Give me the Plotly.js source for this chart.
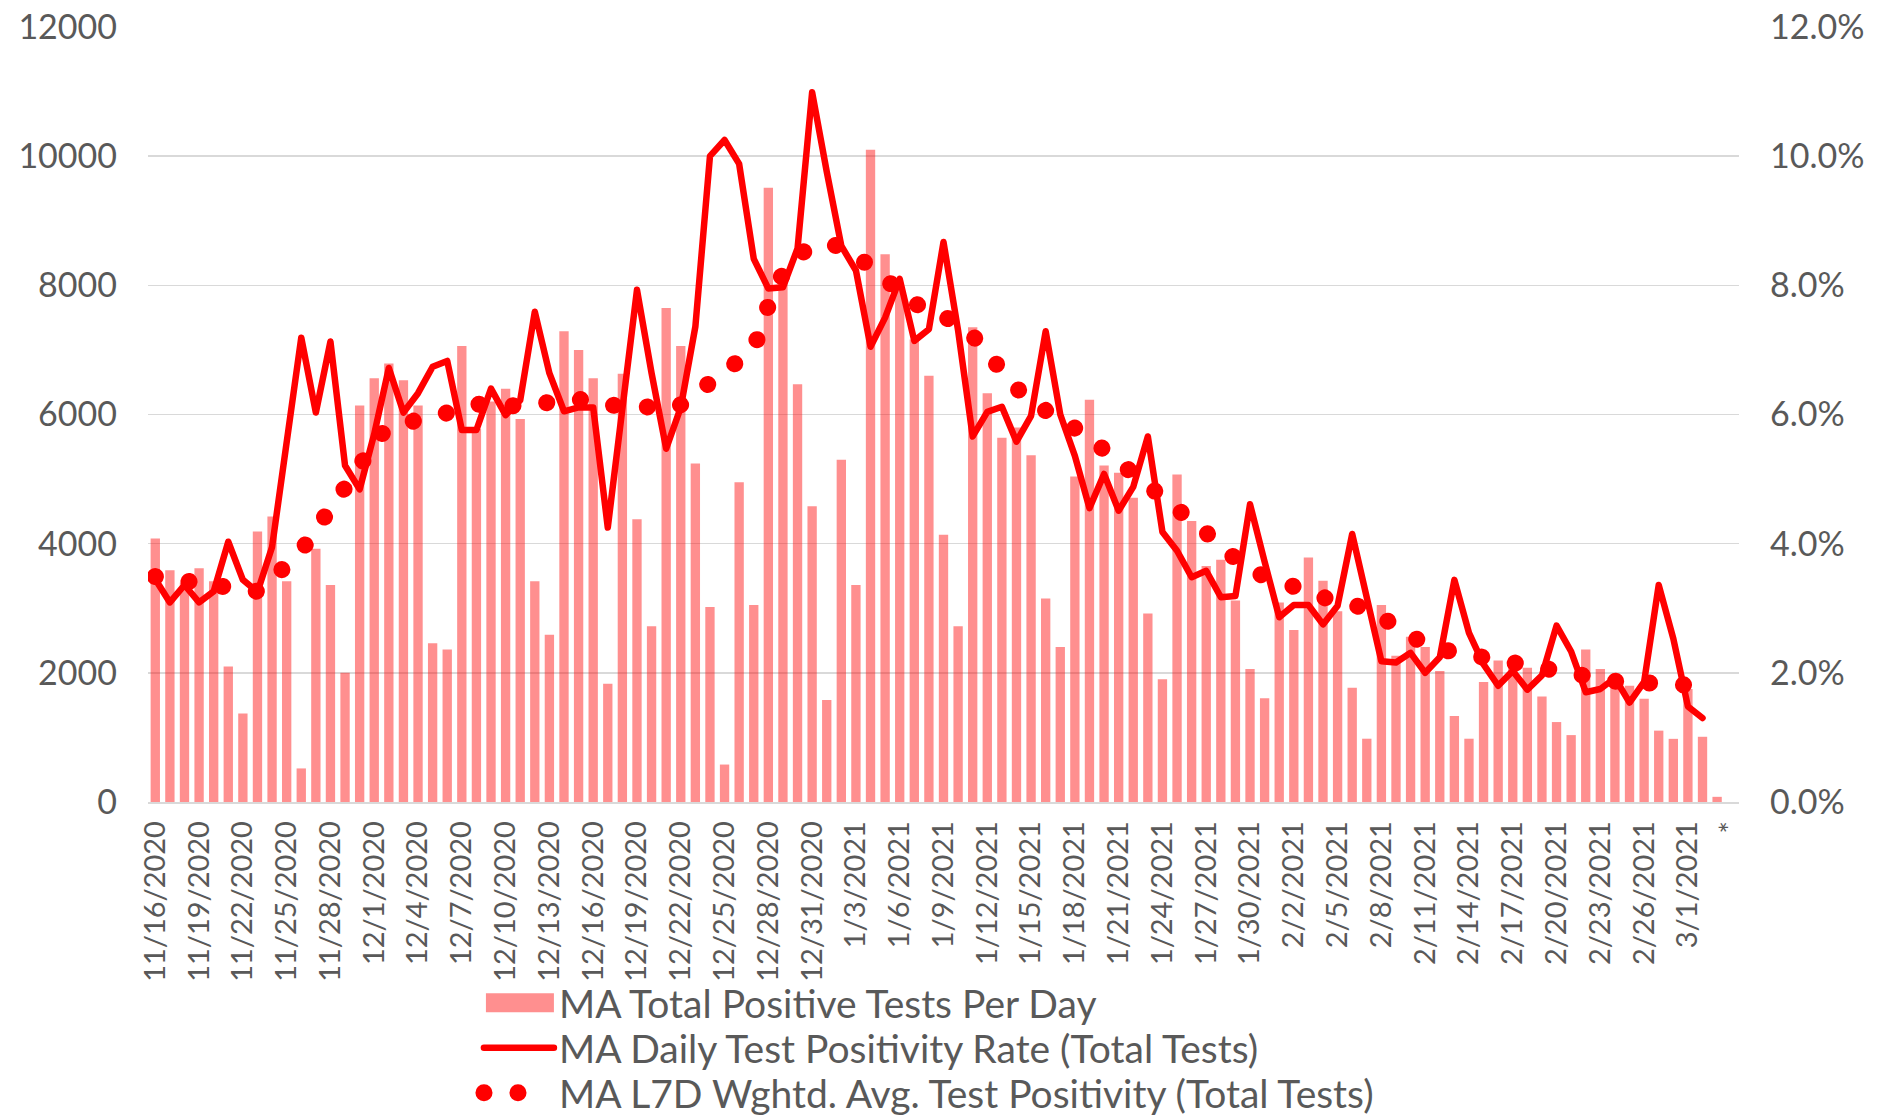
<!DOCTYPE html>
<html>
<head>
<meta charset="utf-8">
<script src="https://cdn.plot.ly/plotly-3.0.1.min.js"></script>
<style>
  html, body { margin: 0; padding: 0; background: #ffffff; }
  #chart { width: 1879px; height: 1115px; }
  path.js-line { stroke-linecap: round; stroke-linejoin: round; }
  .legend .scrollbar { display: none; }
</style>
</head>
<body>
<div id="chart"></div>
<script>
// ---- categories (one per day) ----
const dates = [
  "11/16/2020","11/17/2020","11/18/2020","11/19/2020","11/20/2020","11/21/2020","11/22/2020","11/23/2020","11/24/2020","11/25/2020",
  "11/26/2020","11/27/2020","11/28/2020","11/29/2020","11/30/2020",
  "12/1/2020","12/2/2020","12/3/2020","12/4/2020","12/5/2020","12/6/2020","12/7/2020","12/8/2020","12/9/2020","12/10/2020",
  "12/11/2020","12/12/2020","12/13/2020","12/14/2020","12/15/2020","12/16/2020","12/17/2020","12/18/2020","12/19/2020","12/20/2020",
  "12/21/2020","12/22/2020","12/23/2020","12/24/2020","12/25/2020","12/26/2020","12/27/2020","12/28/2020","12/29/2020","12/30/2020","12/31/2020",
  "1/1/2021","1/2/2021","1/3/2021","1/4/2021","1/5/2021","1/6/2021","1/7/2021","1/8/2021","1/9/2021","1/10/2021",
  "1/11/2021","1/12/2021","1/13/2021","1/14/2021","1/15/2021","1/16/2021","1/17/2021","1/18/2021","1/19/2021","1/20/2021",
  "1/21/2021","1/22/2021","1/23/2021","1/24/2021","1/25/2021","1/26/2021","1/27/2021","1/28/2021","1/29/2021","1/30/2021","1/31/2021",
  "2/1/2021","2/2/2021","2/3/2021","2/4/2021","2/5/2021","2/6/2021","2/7/2021","2/8/2021","2/9/2021","2/10/2021",
  "2/11/2021","2/12/2021","2/13/2021","2/14/2021","2/15/2021","2/16/2021","2/17/2021","2/18/2021","2/19/2021","2/20/2021",
  "2/21/2021","2/22/2021","2/23/2021","2/24/2021","2/25/2021","2/26/2021","2/27/2021","2/28/2021",
  "3/1/2021","3/2/2021","3/3/2021","*"
];

// ---- shown tick labels (every third day) ----
const tickLabels = [
  "11/16/2020","11/19/2020","11/22/2020","11/25/2020","11/28/2020","12/1/2020","12/4/2020","12/7/2020","12/10/2020",
  "12/13/2020","12/16/2020","12/19/2020","12/22/2020","12/25/2020","12/28/2020","12/31/2020","1/3/2021","1/6/2021",
  "1/9/2021","1/12/2021","1/15/2021","1/18/2021","1/21/2021","1/24/2021","1/27/2021","1/30/2021","2/2/2021","2/5/2021",
  "2/8/2021","2/11/2021","2/14/2021","2/17/2021","2/20/2021","2/23/2021","2/26/2021","3/1/2021","*"
];

// ---- MA Total Positive Tests Per Day ----
const positiveTests = [
  4080,3590,3400,3620,3420,2100,1370,4190,4420,3420,
  520,3920,3360,2000,6140,6560,6790,6530,6140,2460,
  2360,7060,5780,6200,6400,5930,3420,2590,7290,7000,
  6560,1830,6630,4380,2720,7650,7060,5240,3020,580,
  4950,3050,9510,8190,6470,4580,1580,5300,3360,10100,
  8480,7970,7160,6600,4140,2720,7350,6330,5640,5800,
  5370,3150,2400,5040,6230,5210,5100,4710,2920,1900,
  5070,4350,3655,3750,3120,2060,1605,3090,2665,3785,
  3425,2955,1770,980,3050,2265,2560,2400,2030,1330,
  980,1860,2190,2165,2080,1632,1238,1036,2360,2060,
  1900,1800,1600,1105,978,1750,1010,80,null
];

// ---- MA Daily Test Positivity Rate (Total Tests), % ----
const dailyPositivity = [
  3.45,3.09,3.36,3.09,3.26,4.03,3.44,3.25,3.95,5.59,
  7.19,6.03,7.13,5.21,4.84,5.70,6.72,6.03,6.33,6.74,
  6.83,5.76,5.76,6.40,5.99,6.22,7.59,6.64,6.05,6.11,
  6.11,4.25,6.19,7.93,6.64,5.47,6.11,7.36,10.00,10.25,
  9.88,8.41,7.95,7.97,8.57,10.99,9.76,8.61,8.23,7.05,
  7.50,8.10,7.14,7.32,8.67,7.30,5.66,6.04,6.12,5.58,
  5.98,7.29,6.00,5.36,4.55,5.08,4.51,4.88,5.66,4.18,
  3.89,3.48,3.58,3.17,3.19,4.61,3.72,2.86,3.05,3.05,
  2.75,3.04,4.15,3.12,2.18,2.16,2.31,2.00,2.24,3.44,
  2.62,2.13,1.80,2.03,1.74,1.96,2.73,2.33,1.70,1.75,
  1.92,1.54,1.86,3.36,2.53,1.48,1.30,null,null
];

// ---- MA L7D Wghtd. Avg. Test Positivity (Total Tests), % ----
const l7dPositivity = [
  3.49,3.45,3.42,3.39,3.34,3.31,3.28,3.26,3.45,3.64,
  3.89,4.22,4.54,4.78,5.19,5.60,5.79,5.86,5.91,5.93,
  5.97,6.08,6.16,6.14,6.11,6.13,6.16,6.19,6.23,6.24,
  6.18,6.13,6.16,6.16,6.11,6.08,6.15,6.32,6.51,6.70,
  6.86,7.01,7.69,8.19,8.48,8.59,8.66,8.59,8.48,8.27,
  8.11,7.95,7.78,7.56,7.51,7.43,7.22,6.93,6.66,6.41,
  6.20,6.08,5.93,5.82,5.65,5.45,5.27,5.12,4.96,4.73,
  4.55,4.36,4.17,3.96,3.73,3.58,3.50,3.41,3.30,3.22,
  3.14,3.09,3.05,3.00,2.86,2.70,2.56,2.44,2.37,2.30,
  2.27,2.24,2.20,2.14,2.07,2.04,2.02,1.97,1.92,1.89,
  1.87,1.86,1.86,1.86,1.84,1.81,1.79,null,null
];

const seriesNames = [
  "MA Total Positive Tests Per Day",
  "MA Daily Test Positivity Rate (Total Tests)",
  "MA L7D Wghtd. Avg. Test Positivity (Total Tests)"
];

const FONT = "Lato, 'Open Sans', sans-serif";
const TXT = "#595959";
const GRID = "#D9D9D9";

const traces = [
  {
    type: "bar", name: seriesNames[0], x: dates, y: positiveTests,
    marker: { color: "rgba(255,0,0,0.44)", line: { width: 0 } },
    yaxis: "y", hoverinfo: "skip"
  },
  {
    type: "scatter", mode: "lines", name: seriesNames[1], x: dates, y: dailyPositivity,
    line: { color: "#FF0000", width: 6.5 },
    yaxis: "y2", hoverinfo: "skip"
  },
  {
    type: "scatter", mode: "lines", name: seriesNames[2], x: dates, y: l7dPositivity,
    line: { color: "#FF0000", width: 17, dash: "0.1px,33.9px" },
    yaxis: "y2", hoverinfo: "skip"
  }
];

const layout = {
  width: 1879, height: 1115,
  margin: { l: 148, r: 140, t: 27, b: 313, pad: 0, autoexpand: false },
  paper_bgcolor: "#ffffff", plot_bgcolor: "rgba(0,0,0,0)",
  font: { family: FONT, color: TXT },
  bargap: 0.36,
  showlegend: true,
  legend: {
    orientation: "v", x: 0.208, xanchor: "left", y: -0.218, yanchor: "top",
    font: { family: FONT, size: 39, color: TXT },
    itemwidth: 70, tracegroupgap: 0, bgcolor: "rgba(0,0,0,0)"
  },
  xaxis: {
    type: "category", categoryorder: "array", categoryarray: dates,
    tickmode: "array", tickvals: tickLabels, ticktext: tickLabels,
    tickangle: -90, tickfont: { family: FONT, size: 29, color: TXT },
    ticks: "", ticklabelstandoff: 6,
    showgrid: false, zeroline: false,
    showline: true, linecolor: GRID, linewidth: 1.5
  },
  yaxis: {
    range: [0, 12000], dtick: 2000, tick0: 0, tickformat: "d",
    tickfont: { family: FONT, size: 34, color: TXT },
    ticks: "", ticklabelstandoff: 30,
    showgrid: true, gridcolor: GRID, gridwidth: 1.5,
    zeroline: false, showline: false
  },
  yaxis2: {
    overlaying: "y", side: "right",
    range: [0, 12], dtick: 2, tick0: 0,
    tickformat: ".1f", ticksuffix: "%",
    tickfont: { family: FONT, size: 34, color: TXT },
    ticks: "", ticklabelstandoff: 30,
    showgrid: false, zeroline: false, showline: false
  }
};

Plotly.newPlot("chart", traces, layout, { staticPlot: true, displayModeBar: false }).then(function (gd) {
  // let the legend draw freely (no scroll clipping at the figure edge)
  gd.querySelectorAll(".legend [clip-path]").forEach(function (el) { el.removeAttribute("clip-path"); });
  // legend symbols drawn wide, as in the original, and rows 45px apart
  const items = gd.querySelectorAll(".legend .traces");
  let y0 = null, x0 = 0;
  items.forEach(function (g, i) {
    const tr = g.getAttribute("transform") || "";
    const m = tr.match(/translate\(\s*([-\d.]+)[ ,]+([-\d.]+)\s*\)/);
    if (m) {
      if (y0 === null) { y0 = parseFloat(m[2]); x0 = parseFloat(m[1]); }
      g.setAttribute("transform", "translate(" + x0 + "," + (y0 + 45 * i) + ")");
    }
    if (i === 0) {
      g.querySelectorAll(".legendpoints path").forEach(function (p) {
        p.setAttribute("d", "M7,-9.5H75V9.5H7Z");
        p.setAttribute("transform", "");
      });
    } else if (i === 1) {
      g.querySelectorAll("path.js-line").forEach(function (p) {
        p.setAttribute("d", "M5,0H75");
        p.style.strokeWidth = "6.5px";
      });
    } else if (i === 2) {
      g.querySelectorAll("path.js-line").forEach(function (p) {
        p.setAttribute("d", "M5,0H40");
        p.style.strokeWidth = "17px";
        p.style.strokeDasharray = "0.1px,33.9px";
      });
    }
  });
});
</script>
</body>
</html>
